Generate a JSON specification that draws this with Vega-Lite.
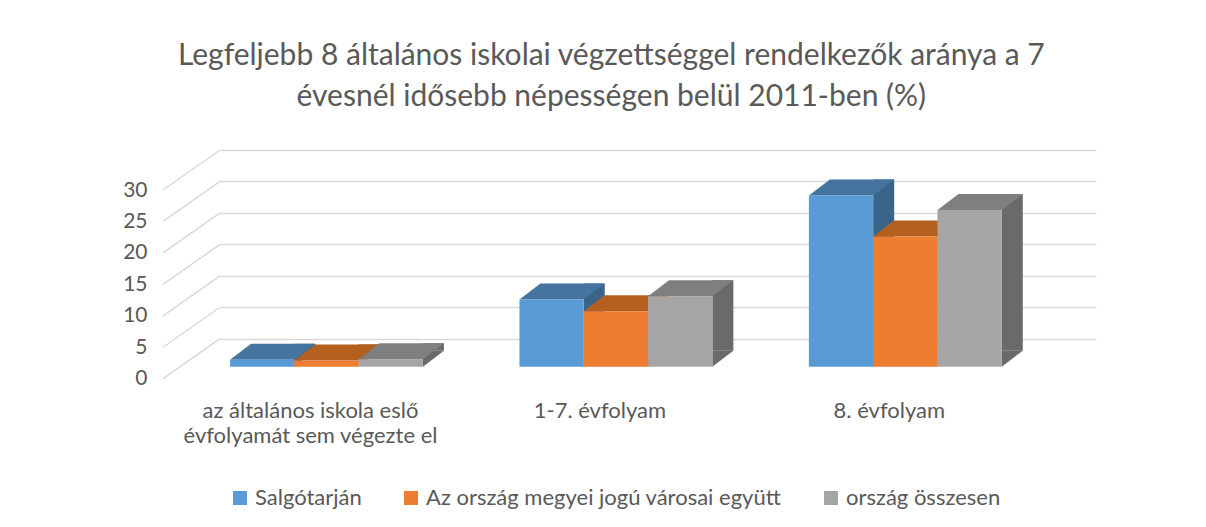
{
  "$schema": "https://vega.github.io/schema/vega-lite/v6.json",
  "autosize": {"type": "none"},
  "width": 876,
  "height": 188.7,
  "padding": {"left": 220, "top": 150, "right": 110, "bottom": 188.3},
  "background": "white",
  "config": {"view": {"stroke": null}, "font": "Lato"},
  "title": {
    "text": ["Legfeljebb 8 általános iskolai végzettséggel rendelkezők aránya a 7", "évesnél idősebb népességen belül 2011-ben (%)"],
    "fontSize": 30, "font": "Lato", "fontWeight": "normal", "color": "#595959",
    "lineHeight": 41, "anchor": "middle", "frame": "bounds", "offset": 35, "dx": 2
  },
  "datasets": {
    "bars": [
      {"cat": "az általános iskola eslő évfolyamát sem végezte el", "series": "Salgótarján", "v": 1.1},
      {"cat": "az általános iskola eslő évfolyamát sem végezte el", "series": "Az ország megyei jogú városai együtt", "v": 1.0},
      {"cat": "az általános iskola eslő évfolyamát sem végezte el", "series": "ország összesen", "v": 1.2},
      {"cat": "1-7. évfolyam", "series": "Salgótarján", "v": 10.7},
      {"cat": "1-7. évfolyam", "series": "Az ország megyei jogú városai együtt", "v": 8.8},
      {"cat": "1-7. évfolyam", "series": "ország összesen", "v": 11.2},
      {"cat": "8. évfolyam", "series": "Salgótarján", "v": 27.2},
      {"cat": "8. évfolyam", "series": "Az ország megyei jogú városai együtt", "v": 20.7},
      {"cat": "8. évfolyam", "series": "ország összesen", "v": 24.9}
    ],
    "grid": [{"g": 0}, {"g": 5}, {"g": 10}, {"g": 15}, {"g": 20}, {"g": 25}, {"g": 30}]
  },
  "layer": [
    {
      "data": {"name": "grid"},
      "mark": {"type": "point", "shape": "M-1.6345,0.4L-1.0645,0", "size": 40000, "filled": false, "opacity": 1, "color": "#d9d9d9", "strokeWidth": 1.5},
      "encoding": {
        "x": {"datum": "az általános iskola eslő évfolyamát sem végezte el", "type": "nominal", "title": null,
              "scale": {"domain": ["az általános iskola eslő évfolyamát sem végezte el", "1-7. évfolyam", "8. évfolyam"], "paddingInner": 0.3333, "paddingOuter": 0.18, "align": 0.096},
              "axis": {"title": null, "labelAngle": 0, "ticks": false, "domain": false, "labelPadding": 62, "labelOffset": -16,
                       "labelFontSize": 22, "labelColor": "#595959", "labelFont": "Lato", "labelLimit": 400, "labelLineHeight": 25, "labelOverlap": false,
                       "labelExpr": "datum.label == 'az általános iskola eslő évfolyamát sem végezte el' ? ['az általános iskola eslő', 'évfolyamát sem végezte el'] : datum.label"}},
        "y": {"field": "g", "type": "quantitative", "title": null, "scale": {"domain": [0, 30], "nice": false},
              "axis": {"title": null, "values": [0, 5, 10, 15, 20, 25, 30], "tickCount": 7, "grid": true, "gridColor": "#d9d9d9", "gridWidth": 1.5,
                       "ticks": false, "domain": false, "labelOffset": 40, "labelPadding": 73, "labelFontSize": 21, "labelOverlap": false, "labelBound": false,
                       "labelColor": "#595959", "labelFont": "Lato"}}
      }
    },
    {
      "data": {"name": "bars"},
      "encoding": {
        "x": {"field": "cat", "type": "nominal", "title": null,
              "scale": {"domain": ["az általános iskola eslő évfolyamát sem végezte el", "1-7. évfolyam", "8. évfolyam"], "paddingInner": 0.3333, "paddingOuter": 0.18, "align": 0.096},
              "axis": {"title": null, "labelAngle": 0, "ticks": false, "domain": false, "labelPadding": 62, "labelOffset": -16,
                       "labelFontSize": 22, "labelColor": "#595959", "labelFont": "Lato", "labelLimit": 400, "labelLineHeight": 25, "labelOverlap": false,
                       "labelExpr": "datum.label == 'az általános iskola eslő évfolyamát sem végezte el' ? ['az általános iskola eslő', 'évfolyamát sem végezte el'] : datum.label"}}
      },
      "layer": [
        {"transform": [{"filter": {"field": "series", "equal": "Salgótarján"}}],
         "mark": {"type": "bar", "width": 21, "xOffset": -21.65, "yOffset": 12, "y2Offset": 12, "color": "#3A6589"},
         "encoding": {"y": {"field": "v", "type": "quantitative", "title": null, "scale": {"domain": [0, 30], "nice": false}, "axis": {"values": [0, 5, 10, 15, 20, 25, 30], "labelOverlap": false}}, "y2": {"datum": 0}}},
        {"transform": [{"filter": {"field": "series", "equal": "Az ország megyei jogú városai együtt"}}],
         "mark": {"type": "bar", "width": 21, "xOffset": 42.65, "yOffset": 12, "y2Offset": 12, "color": "#A3561C"},
         "encoding": {"y": {"field": "v", "type": "quantitative", "title": null, "scale": {"domain": [0, 30], "nice": false}, "axis": {"values": [0, 5, 10, 15, 20, 25, 30], "labelOverlap": false}}, "y2": {"datum": 0}}},
        {"transform": [{"filter": {"field": "series", "equal": "ország összesen"}}],
         "mark": {"type": "bar", "width": 21, "xOffset": 106.95, "yOffset": 12, "y2Offset": 12, "color": "#6A6A6A"},
         "encoding": {"y": {"field": "v", "type": "quantitative", "title": null, "scale": {"domain": [0, 30], "nice": false}, "axis": {"values": [0, 5, 10, 15, 20, 25, 30], "labelOverlap": false}}, "y2": {"datum": 0}}},

        {"transform": [{"filter": {"field": "series", "equal": "Salgótarján"}}],
         "mark": {"type": "point", "shape": "M1,-0.4977L1.6532,-0.4977L1,0Z", "size": 4134, "filled": true, "opacity": 1, "strokeWidth": 0, "color": "#3A6589", "xOffset": -64.3, "yOffset": 28},
         "encoding": {"y": {"datum": 0, "type": "quantitative", "title": null, "axis": {"values": [0, 5, 10, 15, 20, 25, 30], "labelOverlap": false}}}},
        {"transform": [{"filter": {"field": "series", "equal": "Az ország megyei jogú városai együtt"}}],
         "mark": {"type": "point", "shape": "M1,-0.4977L1.6532,-0.4977L1,0Z", "size": 4134, "filled": true, "opacity": 1, "strokeWidth": 0, "color": "#A3561C", "xOffset": 0, "yOffset": 28},
         "encoding": {"y": {"datum": 0, "type": "quantitative", "title": null, "axis": {"values": [0, 5, 10, 15, 20, 25, 30], "labelOverlap": false}}}},
        {"transform": [{"filter": {"field": "series", "equal": "ország összesen"}}],
         "mark": {"type": "point", "shape": "M1,-0.4977L1.6532,-0.4977L1,0Z", "size": 4134, "filled": true, "opacity": 1, "strokeWidth": 0, "color": "#6A6A6A", "xOffset": 64.3, "yOffset": 28},
         "encoding": {"y": {"datum": 0, "type": "quantitative", "title": null, "axis": {"values": [0, 5, 10, 15, 20, 25, 30], "labelOverlap": false}}}},

        {"transform": [{"filter": {"field": "series", "equal": "Salgótarján"}}],
         "mark": {"type": "point", "shape": "M-1,0L-0.3468,-0.4977L1.6532,-0.4977L1,0Z", "size": 4134, "filled": true, "opacity": 1, "strokeWidth": 0, "color": "#44749F", "xOffset": -64.3, "yOffset": 28},
         "encoding": {"y": {"field": "v", "type": "quantitative", "title": null, "scale": {"domain": [0, 30], "nice": false}, "axis": {"values": [0, 5, 10, 15, 20, 25, 30], "labelOverlap": false}}}},
        {"transform": [{"filter": {"field": "series", "equal": "Az ország megyei jogú városai együtt"}}],
         "mark": {"type": "point", "shape": "M-1,0L-0.3468,-0.4977L1.6532,-0.4977L1,0Z", "size": 4134, "filled": true, "opacity": 1, "strokeWidth": 0, "color": "#B4601F", "xOffset": 0, "yOffset": 28},
         "encoding": {"y": {"field": "v", "type": "quantitative", "title": null, "scale": {"domain": [0, 30], "nice": false}, "axis": {"values": [0, 5, 10, 15, 20, 25, 30], "labelOverlap": false}}}},
        {"transform": [{"filter": {"field": "series", "equal": "ország összesen"}}],
         "mark": {"type": "point", "shape": "M-1,0L-0.3468,-0.4977L1.6532,-0.4977L1,0Z", "size": 4134, "filled": true, "opacity": 1, "strokeWidth": 0, "color": "#7F7F7F", "xOffset": 64.3, "yOffset": 28},
         "encoding": {"y": {"field": "v", "type": "quantitative", "title": null, "scale": {"domain": [0, 30], "nice": false}, "axis": {"values": [0, 5, 10, 15, 20, 25, 30], "labelOverlap": false}}}},

        {"transform": [{"filter": {"field": "series", "equal": "Salgótarján"}}],
         "mark": {"type": "bar", "width": 64.3, "xOffset": -64.3, "yOffset": 28, "y2Offset": 28},
         "encoding": {"y": {"field": "v", "type": "quantitative", "title": null, "scale": {"domain": [0, 30], "nice": false}, "axis": {"values": [0, 5, 10, 15, 20, 25, 30], "labelOverlap": false}}, "y2": {"datum": 0},
                      "color": {"field": "series", "type": "nominal",
                                "scale": {"domain": ["Salgótarján", "Az ország megyei jogú városai együtt", "ország összesen"], "range": ["#5B9BD5", "#ED7D31", "#A5A5A5"]},
                                "legend": {"title": null, "orient": "none", "legendX": 9, "legendY": 337, "direction": "horizontal",
                                           "symbolType": "square", "symbolSize": 196, "symbolStrokeWidth": 0, "symbolOpacity": 1,
                                           "labelFontSize": 22, "labelColor": "#595959", "labelFont": "Lato", "labelOffset": 4,
                                           "columnPadding": 38, "labelLimit": 500}}}},
        {"transform": [{"filter": {"field": "series", "equal": "Az ország megyei jogú városai együtt"}}],
         "mark": {"type": "bar", "width": 64.3, "xOffset": 0, "yOffset": 28, "y2Offset": 28},
         "encoding": {"y": {"field": "v", "type": "quantitative", "title": null, "scale": {"domain": [0, 30], "nice": false}, "axis": {"values": [0, 5, 10, 15, 20, 25, 30], "labelOverlap": false}}, "y2": {"datum": 0},
                      "color": {"field": "series", "type": "nominal", "legend": null}}},
        {"transform": [{"filter": {"field": "series", "equal": "ország összesen"}}],
         "mark": {"type": "bar", "width": 64.3, "xOffset": 64.3, "yOffset": 28, "y2Offset": 28},
         "encoding": {"y": {"field": "v", "type": "quantitative", "title": null, "scale": {"domain": [0, 30], "nice": false}, "axis": {"values": [0, 5, 10, 15, 20, 25, 30], "labelOverlap": false}}, "y2": {"datum": 0},
                      "color": {"field": "series", "type": "nominal", "legend": null}}}
      ]
    }
  ]
}
